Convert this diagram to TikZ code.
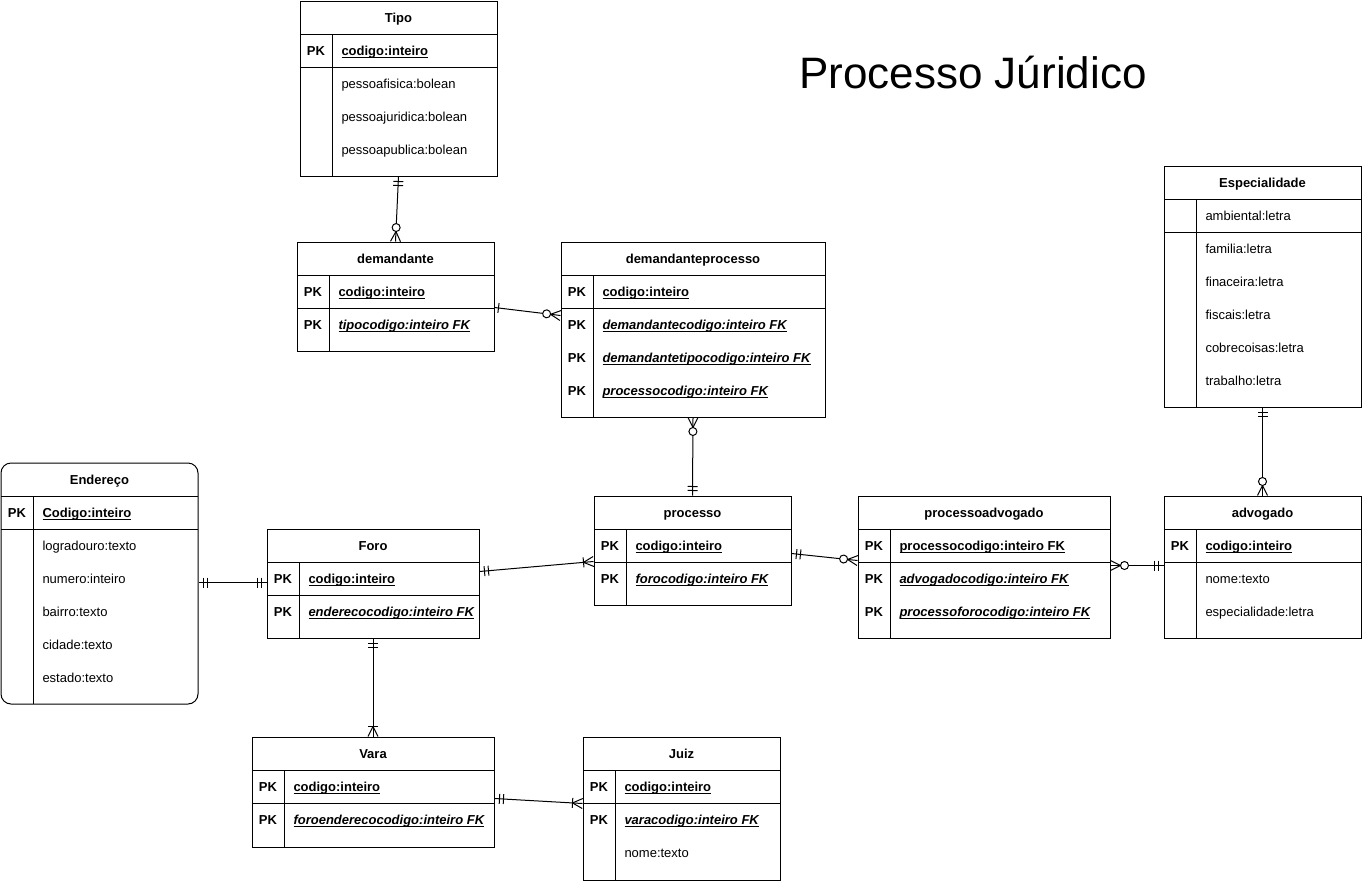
\documentclass[tikz,border=0pt]{standalone}
\usepackage{fontspec}
\setmainfont{Liberation Sans}
\usetikzlibrary{calc,fit,decorations.markings}

% crow's foot ends, drawn with the entity at x=0
\newcommand{\tipMandOne}{\draw (-5,-5) -- (-5,5) (-9,-5) -- (-9,5);}
\newcommand{\tipOne}{\draw (-4,-5) -- (-4,5);}
\newcommand{\tipCrow}{\draw (-10,0) -- (0,-5) (-10,0) -- (0,5);}
\newcommand{\tipZeroMany}{\tipCrow \draw[fill=white] (-14,0) circle[radius=4];}
\newcommand{\tipOneMany}{\tipCrow \draw (-10,-5) -- (-10,5);}

\newcommand{\ulfield}[1]{\setbox0\hbox{#1}\rlap{\rule[-1.8pt]{\wd0}{0.6pt}}\box0}
\newcommand{\pkf}[1]{\ulfield{\bfseries #1}}
\newcommand{\fkf}[1]{\ulfield{\bfseries\itshape #1}}

\tikzset{
  tablebox/.style={draw, inner sep=0pt},
  tabletitle/.style={font=\fontsize{9.75}{11}\selectfont\bfseries, inner sep=0pt, anchor=base, yshift=-3.4pt},
  keycell/.style={font=\fontsize{9.75}{11}\selectfont\bfseries, inner sep=0pt, anchor=base, yshift=-3.4pt},
  attr/.style={font=\fontsize{9.75}{11}\selectfont, inner sep=0pt, anchor=base west, yshift=-3.4pt},
  rel/.style={draw},
  from tip/.style={postaction={decorate, decoration={markings,
      mark=at position 0 with {\begin{scope}[xscale=-1]#1\end{scope}}}}},
  to tip/.style={postaction={decorate, decoration={markings,
      mark=at position 1 with {#1}}}}
}

\begin{document}
\begin{tikzpicture}[x=0.75pt, y=-0.75pt, line width=0.75pt]
  \useasboundingbox (0,0) rectangle (1363,882);

  % heading
  \node[font=\fontsize{33}{40}\selectfont] (heading) at (973,73) {Processo Júridico};

  % Tipo
  \node[tablebox, fit={(300,1) (497,176)}] (tipo) {};
  \node[tabletitle] (tipo-title) at (398.5,17.5) {Tipo};
  \draw (300,34) -- (497,34) (300,67) -- (497,67) (332,34) -- (332,176);
  \node[keycell] (tipo-key) at (316,50.5) {PK};
  \node[attr] (tipo-pk) at (341,50.5) {\pkf{codigo:inteiro}};
  \foreach \txt [count=\i] in {pessoafisica:bolean, pessoajuridica:bolean, pessoapublica:bolean}
    \node[attr] (tipo-r\i) at (341,50.5+33*\i) {\txt};

  % demandante
  \node[tablebox, fit={(297,242) (494,351)}] (demandante) {};
  \node[tabletitle] (demandante-title) at (395.5,258.5) {demandante};
  \draw (297,275) -- (494,275) (297,308) -- (494,308) (329,275) -- (329,351);
  \node[keycell] (demandante-key1) at (313,291.5) {PK};
  \node[keycell] (demandante-key2) at (313,324.5) {PK};
  \node[attr] (demandante-pk) at (338,291.5) {\pkf{codigo:inteiro}};
  \node[attr] (demandante-fk) at (338,324.5) {\fkf{tipocodigo:inteiro FK}};

  % demandanteprocesso
  \node[tablebox, fit={(561,242) (825,417)}] (demproc) {};
  \node[tabletitle] (demproc-title) at (693,258.5) {demandanteprocesso};
  \draw (561,275) -- (825,275) (561,308) -- (825,308) (593,275) -- (593,417);
  \node[keycell] (demproc-key) at (577,291.5) {PK};
  \node[attr] (demproc-pk) at (602,291.5) {\pkf{codigo:inteiro}};
  \foreach \txt [count=\i] in {demandantecodigo:inteiro FK, demandantetipocodigo:inteiro FK, processocodigo:inteiro FK} {
    \node[keycell] (demproc-key\i) at (577,291.5+33*\i) {PK};
    \node[attr] (demproc-fk\i) at (602,291.5+33*\i) {\fkf{\txt}};
  }

  % Endereço
  \node[tablebox, rounded corners=7.5pt, fit={(1,463) (198,704)}] (endereco) {};
  \node[tabletitle] (endereco-title) at (99.5,479.5) {Endereço};
  \draw (1,496) -- (198,496) (1,529) -- (198,529) (33,496) -- (33,704);
  \node[keycell] (endereco-key) at (17,512.5) {PK};
  \node[attr] (endereco-pk) at (42,512.5) {\pkf{Codigo:inteiro}};
  \foreach \txt [count=\i] in {logradouro:texto, numero:inteiro, bairro:texto, cidade:texto, estado:texto}
    \node[attr] (endereco-r\i) at (42,512.5+33*\i) {\txt};

  % Foro
  \node[tablebox, fit={(267,529) (479,638)}] (foro) {};
  \node[tabletitle] (foro-title) at (373,545.5) {Foro};
  \draw (267,562) -- (479,562) (267,595) -- (479,595) (299,562) -- (299,638);
  \node[keycell] (foro-key1) at (283,578.5) {PK};
  \node[keycell] (foro-key2) at (283,611.5) {PK};
  \node[attr] (foro-pk) at (308,578.5) {\pkf{codigo:inteiro}};
  \node[attr] (foro-fk) at (308,611.5) {\fkf{enderecocodigo:inteiro FK}};

  % processo
  \node[tablebox, fit={(594,496) (791,605)}] (processo) {};
  \node[tabletitle] (processo-title) at (692.5,512.5) {processo};
  \draw (594,529) -- (791,529) (594,562) -- (791,562) (626,529) -- (626,605);
  \node[keycell] (processo-key1) at (610,545.5) {PK};
  \node[keycell] (processo-key2) at (610,578.5) {PK};
  \node[attr] (processo-pk) at (635,545.5) {\pkf{codigo:inteiro}};
  \node[attr] (processo-fk) at (635,578.5) {\fkf{forocodigo:inteiro FK}};

  % processoadvogado
  \node[tablebox, fit={(858,496) (1110,638)}] (procadv) {};
  \node[tabletitle] (procadv-title) at (984,512.5) {processoadvogado};
  \draw (858,529) -- (1110,529) (858,562) -- (1110,562) (890,529) -- (890,638);
  \node[keycell] (procadv-key) at (874,545.5) {PK};
  \node[attr] (procadv-pk) at (899,545.5) {\pkf{processocodigo:inteiro FK}};
  \foreach \txt [count=\i] in {advogadocodigo:inteiro FK, processoforocodigo:inteiro FK} {
    \node[keycell] (procadv-key\i) at (874,545.5+33*\i) {PK};
    \node[attr] (procadv-fk\i) at (899,545.5+33*\i) {\fkf{\txt}};
  }

  % advogado
  \node[tablebox, fit={(1164,496) (1361,638)}] (advogado) {};
  \node[tabletitle] (advogado-title) at (1262.5,512.5) {advogado};
  \draw (1164,529) -- (1361,529) (1164,562) -- (1361,562) (1196,529) -- (1196,638);
  \node[keycell] (advogado-key) at (1180,545.5) {PK};
  \node[attr] (advogado-pk) at (1205,545.5) {\pkf{codigo:inteiro}};
  \foreach \txt [count=\i] in {nome:texto, especialidade:letra}
    \node[attr] (advogado-r\i) at (1205,545.5+33*\i) {\txt};

  % Especialidade
  \node[tablebox, fit={(1164,166) (1361,407)}] (especialidade) {};
  \node[tabletitle] (especialidade-title) at (1262.5,182.5) {Especialidade};
  \draw (1164,199) -- (1361,199) (1164,232) -- (1361,232) (1196,199) -- (1196,407);
  \foreach \txt [count=\i from 0] in {ambiental:letra, familia:letra, finaceira:letra, fiscais:letra, cobrecoisas:letra, trabalho:letra}
    \node[attr] (especialidade-r\i) at (1205,215.5+33*\i) {\txt};

  % Vara
  \node[tablebox, fit={(252,737) (494,847)}] (vara) {};
  \node[tabletitle] (vara-title) at (373,753.5) {Vara};
  \draw (252,770) -- (494,770) (252,803) -- (494,803) (284,770) -- (284,847);
  \node[keycell] (vara-key1) at (268,786.5) {PK};
  \node[keycell] (vara-key2) at (268,819.5) {PK};
  \node[attr] (vara-pk) at (293,786.5) {\pkf{codigo:inteiro}};
  \node[attr] (vara-fk) at (293,819.5) {\fkf{foroenderecocodigo:inteiro FK}};

  % Juiz
  \node[tablebox, fit={(583,737) (780,880)}] (juiz) {};
  \node[tabletitle] (juiz-title) at (681.5,753.5) {Juiz};
  \draw (583,770) -- (780,770) (583,803) -- (780,803) (615,770) -- (615,880);
  \node[keycell] (juiz-key1) at (599,786.5) {PK};
  \node[keycell] (juiz-key2) at (599,819.5) {PK};
  \node[attr] (juiz-pk) at (624,786.5) {\pkf{codigo:inteiro}};
  \node[attr] (juiz-fk) at (624,819.5) {\fkf{varacodigo:inteiro FK}};
  \node[attr] (juiz-r1) at (624,852.5) {nome:texto};

  % relationships
  \draw[rel, from tip=\tipMandOne, to tip=\tipZeroMany] (tipo.south) -- (demandante.north);
  \draw[rel, from tip=\tipOne, to tip=\tipZeroMany]
    ($(demandante.north east)+(0,66)$) -- ($(demproc.north west)+(0,74)$);
  \draw[rel, from tip=\tipZeroMany, to tip=\tipMandOne] (demproc.south) -- (processo.north);
  \draw[rel, from tip=\tipMandOne, to tip=\tipOneMany]
    ($(foro.north east)+(0,43)$) -- ($(processo.north west)+(0,66)$);
  \draw[rel, from tip=\tipMandOne, to tip=\tipMandOne]
    ($(endereco.north east)+(0,120)$) -- ($(foro.north west)+(0,54)$);
  \draw[rel, from tip=\tipMandOne, to tip=\tipOneMany] (foro.south) -- (vara.north);
  \draw[rel, from tip=\tipMandOne, to tip=\tipOneMany]
    ($(vara.north east)+(0,62)$) -- ($(juiz.north west)+(0,67)$);
  \draw[rel, from tip=\tipMandOne, to tip=\tipZeroMany]
    ($(processo.north east)+(0,58)$) -- ($(procadv.north west)+(0,65)$);
  \draw[rel, from tip=\tipZeroMany, to tip=\tipMandOne]
    ($(procadv.north east)+(0,70)$) -- ($(advogado.north west)+(0,70)$);
  \draw[rel, from tip=\tipMandOne, to tip=\tipZeroMany] (especialidade.south) -- (advogado.north);
\end{tikzpicture}
\end{document}
